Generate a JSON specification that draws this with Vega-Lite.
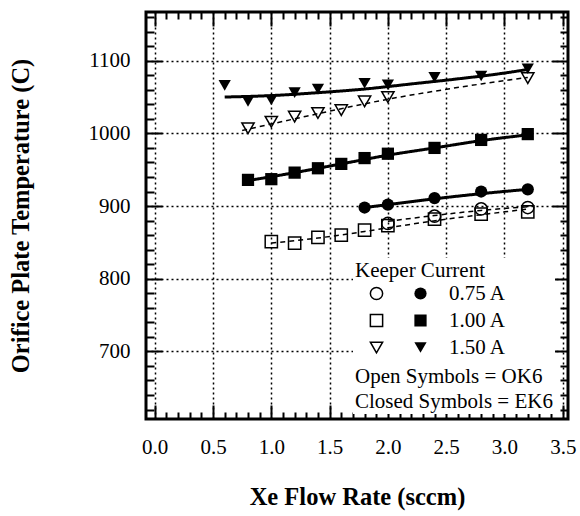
{
  "$schema": "https://vega.github.io/schema/vega-lite/v6.json",
  "width": 422,
  "height": 407,
  "autosize": {"type": "none"},
  "padding": {"left": 146, "top": 12, "right": 12, "bottom": 97},
  "background": "white",
  "config": {
    "font": "Liberation Serif",
    "view": {"stroke": "black", "strokeWidth": 3},
    "axis": {"labelFont": "Liberation Serif", "titleFont": "Liberation Serif", "labelColor": "black", "titleColor": "black", "tickColor": "black"},
    "legend": {"labelFont": "Liberation Serif", "titleFont": "Liberation Serif", "labelColor": "black", "titleColor": "black"}
  },
  "datasets": {
    "points": [
      {"x": 0.6, "T": 1066, "current": "1.50 A", "type": "EK6"},
      {"x": 0.8, "T": 1044, "current": "1.50 A", "type": "EK6"},
      {"x": 1.0, "T": 1046, "current": "1.50 A", "type": "EK6"},
      {"x": 1.2, "T": 1056, "current": "1.50 A", "type": "EK6"},
      {"x": 1.4, "T": 1061, "current": "1.50 A", "type": "EK6"},
      {"x": 1.8, "T": 1069, "current": "1.50 A", "type": "EK6"},
      {"x": 2.0, "T": 1067, "current": "1.50 A", "type": "EK6"},
      {"x": 2.4, "T": 1077, "current": "1.50 A", "type": "EK6"},
      {"x": 2.8, "T": 1079, "current": "1.50 A", "type": "EK6"},
      {"x": 3.2, "T": 1089, "current": "1.50 A", "type": "EK6"},
      {"x": 0.8, "T": 1007, "current": "1.50 A", "type": "OK6"},
      {"x": 1.0, "T": 1016, "current": "1.50 A", "type": "OK6"},
      {"x": 1.2, "T": 1023, "current": "1.50 A", "type": "OK6"},
      {"x": 1.4, "T": 1028, "current": "1.50 A", "type": "OK6"},
      {"x": 1.6, "T": 1032, "current": "1.50 A", "type": "OK6"},
      {"x": 1.8, "T": 1044, "current": "1.50 A", "type": "OK6"},
      {"x": 2.0, "T": 1050, "current": "1.50 A", "type": "OK6"},
      {"x": 3.2, "T": 1076, "current": "1.50 A", "type": "OK6"},
      {"x": 0.8, "T": 936, "current": "1.00 A", "type": "EK6"},
      {"x": 1.0, "T": 937, "current": "1.00 A", "type": "EK6"},
      {"x": 1.2, "T": 946, "current": "1.00 A", "type": "EK6"},
      {"x": 1.4, "T": 952, "current": "1.00 A", "type": "EK6"},
      {"x": 1.6, "T": 958, "current": "1.00 A", "type": "EK6"},
      {"x": 1.8, "T": 966, "current": "1.00 A", "type": "EK6"},
      {"x": 2.0, "T": 972, "current": "1.00 A", "type": "EK6"},
      {"x": 2.4, "T": 980, "current": "1.00 A", "type": "EK6"},
      {"x": 2.8, "T": 991, "current": "1.00 A", "type": "EK6"},
      {"x": 3.2, "T": 999, "current": "1.00 A", "type": "EK6"},
      {"x": 1.0, "T": 851, "current": "1.00 A", "type": "OK6"},
      {"x": 1.2, "T": 849, "current": "1.00 A", "type": "OK6"},
      {"x": 1.4, "T": 857, "current": "1.00 A", "type": "OK6"},
      {"x": 1.6, "T": 860, "current": "1.00 A", "type": "OK6"},
      {"x": 1.8, "T": 867, "current": "1.00 A", "type": "OK6"},
      {"x": 2.0, "T": 873, "current": "1.00 A", "type": "OK6"},
      {"x": 2.4, "T": 882, "current": "1.00 A", "type": "OK6"},
      {"x": 2.8, "T": 889, "current": "1.00 A", "type": "OK6"},
      {"x": 3.2, "T": 892, "current": "1.00 A", "type": "OK6"},
      {"x": 1.8, "T": 898, "current": "0.75 A", "type": "EK6"},
      {"x": 2.0, "T": 902, "current": "0.75 A", "type": "EK6"},
      {"x": 2.4, "T": 911, "current": "0.75 A", "type": "EK6"},
      {"x": 2.8, "T": 920, "current": "0.75 A", "type": "EK6"},
      {"x": 3.2, "T": 923, "current": "0.75 A", "type": "EK6"},
      {"x": 2.0, "T": 876, "current": "0.75 A", "type": "OK6"},
      {"x": 2.4, "T": 886, "current": "0.75 A", "type": "OK6"},
      {"x": 2.8, "T": 896, "current": "0.75 A", "type": "OK6"},
      {"x": 3.2, "T": 898, "current": "0.75 A", "type": "OK6"}
    ],
    "fits": [
      {"x": 0.6, "T": 1050, "current": "1.50 A", "type": "EK6"},
      {"x": 1.0, "T": 1052, "current": "1.50 A", "type": "EK6"},
      {"x": 1.4, "T": 1056, "current": "1.50 A", "type": "EK6"},
      {"x": 1.8, "T": 1061, "current": "1.50 A", "type": "EK6"},
      {"x": 2.2, "T": 1068, "current": "1.50 A", "type": "EK6"},
      {"x": 2.6, "T": 1075, "current": "1.50 A", "type": "EK6"},
      {"x": 3.0, "T": 1083, "current": "1.50 A", "type": "EK6"},
      {"x": 3.2, "T": 1088, "current": "1.50 A", "type": "EK6"},
      {"x": 0.75, "T": 1004, "current": "1.50 A", "type": "OK6"},
      {"x": 1.2, "T": 1020, "current": "1.50 A", "type": "OK6"},
      {"x": 1.6, "T": 1034, "current": "1.50 A", "type": "OK6"},
      {"x": 2.0, "T": 1047, "current": "1.50 A", "type": "OK6"},
      {"x": 2.4, "T": 1058, "current": "1.50 A", "type": "OK6"},
      {"x": 2.8, "T": 1068, "current": "1.50 A", "type": "OK6"},
      {"x": 3.2, "T": 1077, "current": "1.50 A", "type": "OK6"},
      {"x": 0.8, "T": 935, "current": "1.00 A", "type": "EK6"},
      {"x": 1.2, "T": 946, "current": "1.00 A", "type": "EK6"},
      {"x": 1.6, "T": 958, "current": "1.00 A", "type": "EK6"},
      {"x": 2.0, "T": 970, "current": "1.00 A", "type": "EK6"},
      {"x": 2.4, "T": 980, "current": "1.00 A", "type": "EK6"},
      {"x": 2.8, "T": 990, "current": "1.00 A", "type": "EK6"},
      {"x": 3.2, "T": 998, "current": "1.00 A", "type": "EK6"},
      {"x": 1.0, "T": 849, "current": "1.00 A", "type": "OK6"},
      {"x": 1.4, "T": 856, "current": "1.00 A", "type": "OK6"},
      {"x": 1.8, "T": 865, "current": "1.00 A", "type": "OK6"},
      {"x": 2.2, "T": 875, "current": "1.00 A", "type": "OK6"},
      {"x": 2.6, "T": 884, "current": "1.00 A", "type": "OK6"},
      {"x": 3.0, "T": 892, "current": "1.00 A", "type": "OK6"},
      {"x": 3.2, "T": 896, "current": "1.00 A", "type": "OK6"},
      {"x": 1.8, "T": 898, "current": "0.75 A", "type": "EK6"},
      {"x": 2.0, "T": 902, "current": "0.75 A", "type": "EK6"},
      {"x": 2.4, "T": 910, "current": "0.75 A", "type": "EK6"},
      {"x": 2.8, "T": 917, "current": "0.75 A", "type": "EK6"},
      {"x": 3.2, "T": 923, "current": "0.75 A", "type": "EK6"},
      {"x": 2.0, "T": 879, "current": "0.75 A", "type": "OK6"},
      {"x": 2.4, "T": 887, "current": "0.75 A", "type": "OK6"},
      {"x": 2.8, "T": 894, "current": "0.75 A", "type": "OK6"},
      {"x": 3.2, "T": 899, "current": "0.75 A", "type": "OK6"}
    ]
  },
  "layer": [
    {
      "data": {"name": "fits"},
      "mark": {"type": "line", "interpolate": "monotone", "color": "black"},
      "encoding": {
        "x": {
          "field": "x", "type": "quantitative",
          "scale": {"domain": [-0.075, 3.545], "nice": false, "zero": false},
          "axis": {
            "orient": "bottom", "offset": -14,
            "values": [0,0.1,0.2,0.3,0.4,0.5,0.6,0.7,0.8,0.9,1,1.1,1.2,1.3,1.4,1.5,1.6,1.7,1.8,1.9,2,2.1,2.2,2.3,2.4,2.5,2.6,2.7,2.8,2.9,3,3.1,3.2,3.3,3.4,3.5],
            "labelExpr": "abs(datum.value*2-round(datum.value*2))<0.01 ? format(datum.value,'.1f') : ''",
            "tickSize": 14,
            "tickDash": {"condition": {"test": "abs(datum.value*2-round(datum.value*2))<0.01", "value": [20, 0]}, "value": [0, 7, 7, 40]},
            "tickWidth": 2,
            "grid": false,
            "domain": false,
            "labelFontSize": 21, "labelPadding": 17, "labelFlush": false, "labelOverlap": false, "labelBound": false,
            "title": "Xe Flow Rate (sccm)", "titleFontSize": 24.5, "titleFontWeight": "bold", "titlePadding": 28
          }
        },
        "y": {
          "field": "T", "type": "quantitative",
          "scale": {"domain": [607, 1167], "nice": false, "zero": false},
          "axis": {
            "orient": "left", "offset": -16,
            "values": [620,640,660,680,700,720,740,760,780,800,820,840,860,880,900,920,940,960,980,1000,1020,1040,1060,1080,1100,1120,1140,1160],
            "labelExpr": "datum.value % 100 == 0 ? datum.value : ''",
            "tickSize": 16,
            "tickDash": {"condition": {"test": "datum.value % 100 == 0", "value": [20, 0]}, "value": [0, 8, 8, 40]},
            "tickWidth": 2,
            "grid": false,
            "domain": false,
            "labelFontSize": 21, "labelPadding": 16, "labelOverlap": false, "labelFlush": false, "labelBound": false,
            "title": "Orifice Plate Temperature (C)", "titleFontSize": 24.5, "titleFontWeight": "bold", "titlePadding": 55
          }
        },
        "detail": {"field": "current"},
        "strokeDash": {
          "field": "type", "type": "nominal",
          "scale": {"domain": ["OK6", "EK6"], "range": [[5, 4], [1, 0]]},
          "legend": {
            "orient": "none", "legendX": 207, "legendY": 246,
            "title": ["Keeper Current", " ", " ", " "],
            "titleFontSize": 21, "titleFontWeight": "normal", "titleLineHeight": 24, "titlePadding": 13,
            "labelFontSize": 21, "labelLimit": 400,
            "labelExpr": "datum.label == 'OK6' ? 'Open Symbols = OK6' : 'Closed Symbols = EK6'",
            "symbolType": "circle", "symbolOpacity": 0, "symbolSize": 1, "symbolStrokeWidth": 0, "labelOffset": -21,
            "rowPadding": 3, "padding": 2, "fillColor": "white", "zindex": 1
          }
        },
        "strokeWidth": {
          "field": "type", "type": "nominal",
          "scale": {"domain": ["OK6", "EK6"], "range": [1.5, 3]},
          "legend": null
        }
      }
    },
    {
      "data": {"name": "points"},
      "transform": [{"filter": "datum.type == 'OK6'"}],
      "mark": {"type": "point", "filled": false, "color": "black", "strokeWidth": 1.5, "size": 150, "opacity": 1},
      "encoding": {
        "x": {
          "field": "x", "type": "quantitative",
          "axis": {
            "orient": "top", "offset": -14,
            "values": [0,0.1,0.2,0.3,0.4,0.5,0.6,0.7,0.8,0.9,1,1.1,1.2,1.3,1.4,1.5,1.6,1.7,1.8,1.9,2,2.1,2.2,2.3,2.4,2.5,2.6,2.7,2.8,2.9,3,3.1,3.2,3.3,3.4,3.5],
            "labels": false, "grid": false, "domain": false, "title": null, "tickWidth": 2,
            "tickSize": 14,
            "tickDash": {"condition": {"test": "abs(datum.value*2-round(datum.value*2))<0.01", "value": [20, 0]}, "value": [0, 7, 7, 40]}
          }
        },
        "y": {
          "field": "T", "type": "quantitative",
          "axis": {
            "orient": "right", "offset": -16,
            "values": [620,640,660,680,700,720,740,760,780,800,820,840,860,880,900,920,940,960,980,1000,1020,1040,1060,1080,1100,1120,1140,1160],
            "labels": false, "grid": false, "domain": false, "title": null, "tickWidth": 2,
            "tickSize": 16,
            "tickDash": {"condition": {"test": "datum.value % 100 == 0", "value": [20, 0]}, "value": [0, 8, 8, 40]}
          }
        },
        "shape": {
          "field": "current", "type": "nominal",
          "scale": {"domain": ["0.75 A", "1.00 A", "1.50 A"], "range": ["circle", "square", "triangle-down"]},
          "legend": {
            "orient": "none", "legendX": 220, "legendY": 271, "title": null,
            "labelExpr": "''", "labelFontSize": 21, "labelOffset": 0, "clipHeight": 21,
            "symbolSize": 150, "symbolStrokeWidth": 1.5, "symbolStrokeColor": "black", "symbolFillColor": "white",
            "rowPadding": 5, "padding": 0, "zindex": 2
          }
        }
      }
    },
    {
      "data": {"name": "points"},
      "transform": [{"filter": "datum.type == 'EK6'"}],
      "mark": {"type": "point", "filled": true, "color": "black", "size": 150, "opacity": 1},
      "encoding": {
        "x": {
          "field": "x", "type": "quantitative",
          "axis": {
            "orient": "bottom", "offset": 0,
            "values": [0, 0.5, 1, 1.5, 2, 2.5, 3, 3.5],
            "grid": true, "gridColor": "black", "gridDash": [2, 3], "gridWidth": 1.5,
            "ticks": false, "labels": false, "domain": false, "title": null
          }
        },
        "y": {
          "field": "T", "type": "quantitative",
          "axis": {
            "orient": "left", "offset": 0,
            "values": [700, 800, 900, 1000, 1100],
            "grid": true, "gridColor": "black", "gridDash": [2, 3], "gridWidth": 1.5,
            "ticks": false, "labels": false, "domain": false, "title": null
          }
        },
        "shape": {
          "field": "current", "type": "nominal",
          "scale": {"domain": ["0.75 A", "1.00 A", "1.50 A"], "range": ["circle", "square", "triangle-down"]},
          "legend": {
            "orient": "none", "legendX": 264, "legendY": 271, "title": null,
            "labelFontSize": 21, "labelOffset": 18, "clipHeight": 21,
            "symbolSize": 150, "symbolFillColor": "black", "symbolStrokeColor": "black",
            "rowPadding": 5, "padding": 0, "zindex": 2
          }
        }
      }
    }
  ],
  "resolve": {
    "axis": {"x": "independent", "y": "independent"},
    "scale": {"shape": "independent"},
    "legend": {"shape": "independent"}
  }
}
